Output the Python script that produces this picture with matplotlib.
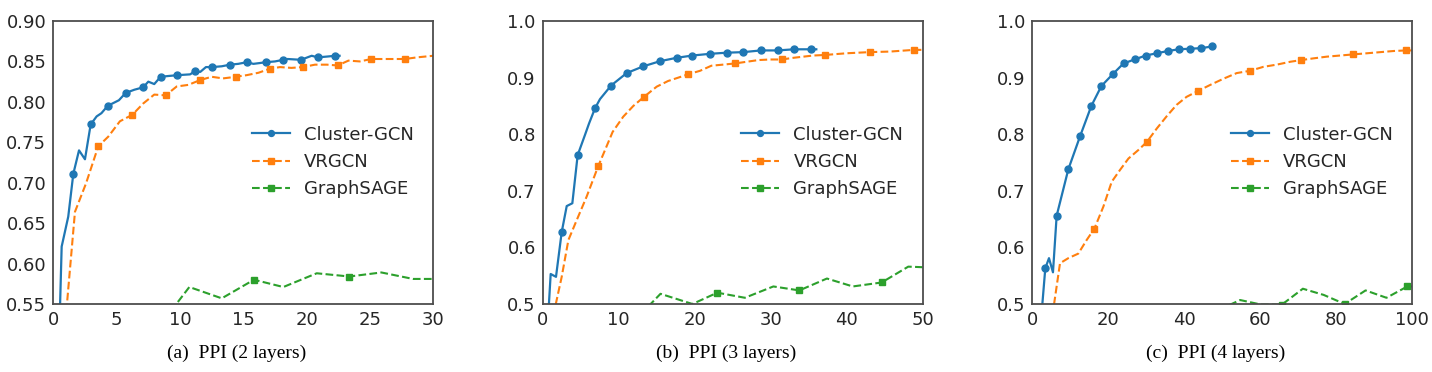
import matplotlib
matplotlib.use("Agg")
import matplotlib.pyplot as plt

# ---------------- data ----------------
# Panel (a): PPI (2 layers)
a_cluster_x = [0.45, 0.66, 1.18, 1.58, 2.03, 2.5, 2.95, 3.42, 3.8, 4.29, 5.18, 5.71, 6.4, 7.1, 7.5, 7.97, 8.47,
               9.1, 9.8, 10.8, 11.2, 11.6, 12.05, 12.55, 13.3, 13.95, 14.6, 15.26, 15.8, 16.3, 16.76, 17.5, 18.16,
               18.5, 19.55, 20.4, 20.87, 21.6, 22.26, 22.6]
a_cluster_y = [0.50, 0.621, 0.658, 0.711, 0.740, 0.729, 0.772, 0.782, 0.786, 0.795, 0.802, 0.811, 0.815, 0.818,
               0.825, 0.822, 0.831, 0.832, 0.833, 0.834, 0.838, 0.837, 0.843, 0.843, 0.844, 0.846, 0.847, 0.849,
               0.847, 0.848, 0.849, 0.850, 0.852, 0.853, 0.852, 0.857, 0.855, 0.856, 0.857, 0.857]
a_cluster_marks = [3, 6, 9, 11, 13, 16, 18, 20, 23, 25, 27, 30, 32, 34, 36, 38]

a_vrgcn_x = [0.8, 1.71, 2.58, 3.55, 4.34, 5.26, 6.24, 7.1, 7.97, 8.87, 9.74, 10.66, 11.6, 12.5, 13.4, 14.4,
             15.26, 16.2, 17.1, 17.9, 18.8, 19.7, 20.66, 21.6, 22.45, 23.3, 24.2, 25.1, 26.05, 26.8, 27.76,
             28.7, 30.0]
a_vrgcn_y = [0.50, 0.664, 0.699, 0.745, 0.757, 0.776, 0.784, 0.798, 0.809, 0.808, 0.819, 0.821, 0.827, 0.831,
             0.829, 0.831, 0.833, 0.836, 0.841, 0.843, 0.842, 0.843, 0.846, 0.846, 0.845, 0.851, 0.850, 0.853,
             0.853, 0.853, 0.853, 0.855, 0.857]
a_vrgcn_marks = [3, 6, 9, 12, 15, 18, 21, 24, 27, 30]

a_sage_x = [8.24, 10.74, 13.3, 15.84, 18.16, 20.8, 23.37, 25.9, 28.4, 30.0]
a_sage_y = [0.520, 0.571, 0.557, 0.580, 0.571, 0.588, 0.584, 0.589, 0.581, 0.581]
a_sage_marks = [0, 3, 6]

# Panel (b): PPI (3 layers)
b_cluster_x = [0.6, 1.05, 1.75, 2.5, 3.16, 3.9, 4.6, 5.57, 6.1, 6.89, 7.54, 9.0, 11.05, 13.25, 15.44, 17.63,
               19.7, 22.0, 24.2, 26.4, 28.7, 30.9, 33.07, 35.3, 36.0]
b_cluster_y = [0.45, 0.553, 0.548, 0.627, 0.673, 0.678, 0.763, 0.799, 0.819, 0.846, 0.862, 0.886, 0.908, 0.920,
               0.929, 0.935, 0.939, 0.942, 0.944, 0.945, 0.948, 0.948, 0.950, 0.950, 0.950]
b_cluster_marks = [3, 6, 9, 11, 12, 13, 14, 15, 16, 17, 18, 19, 20, 21, 22, 23]

b_vrgcn_x = [1.4, 2.5, 3.38, 4.47, 5.79, 7.32, 8.2, 9.2, 10.6, 11.93, 13.33, 15.0, 16.5, 17.85, 19.17, 20.7,
             22.2, 23.8, 25.3, 26.84, 28.4, 29.9, 31.45, 33.0, 34.3, 35.6, 37.15, 40.0, 43.0, 45.7, 48.86, 50.0]
b_vrgcn_y = [0.48, 0.548, 0.613, 0.648, 0.690, 0.744, 0.772, 0.804, 0.831, 0.850, 0.866, 0.884, 0.894, 0.900,
             0.906, 0.912, 0.921, 0.923, 0.925, 0.928, 0.931, 0.932, 0.932, 0.935, 0.937, 0.939, 0.940, 0.943,
             0.945, 0.946, 0.949, 0.949]
b_vrgcn_marks = [5, 10, 14, 18, 22, 26, 28, 30]

b_sage_x = [11.9, 15.5, 19.7, 22.98, 26.6, 30.35, 33.77, 37.4, 40.8, 44.6, 48.1, 50.0]
b_sage_y = [0.468, 0.518, 0.500, 0.520, 0.511, 0.531, 0.524, 0.545, 0.531, 0.538, 0.566, 0.565]
b_sage_marks = [3, 6, 9]

# Panel (c): PPI (4 layers)
c_cluster_x = [2.4, 3.42, 4.39, 5.44, 6.41, 9.48, 12.55, 15.54, 18.17, 21.16, 24.0, 26.9, 29.85, 32.75, 35.7,
               38.5, 41.4, 44.4, 47.3, 47.6]
c_cluster_y = [0.48, 0.563, 0.581, 0.556, 0.656, 0.738, 0.796, 0.850, 0.885, 0.906, 0.925, 0.932, 0.939, 0.943,
               0.947, 0.950, 0.951, 0.952, 0.955, 0.955]
c_cluster_marks = [1, 4, 5, 6, 7, 8, 9, 10, 11, 12, 13, 14, 15, 16, 17, 18]

c_vrgcn_x = [5.3, 7.29, 9.48, 12.1, 14.3, 16.33, 18.7, 20.9, 23.1, 25.3, 27.9, 30.1, 32.75, 35.4, 38.0, 40.6,
             43.5, 46.8, 50.3, 53.8, 57.3, 60.8, 64.4, 67.9, 70.8, 74.0, 77.5, 81.0, 84.5, 88.1, 91.6, 95.1,
             98.3, 100.0]
c_vrgcn_y = [0.48, 0.572, 0.581, 0.589, 0.613, 0.633, 0.672, 0.716, 0.737, 0.757, 0.772, 0.786, 0.810, 0.832,
             0.852, 0.866, 0.876, 0.887, 0.898, 0.908, 0.912, 0.919, 0.923, 0.928, 0.931, 0.934, 0.937, 0.939,
             0.941, 0.943, 0.945, 0.947, 0.948, 0.948]
c_vrgcn_marks = [5, 11, 16, 20, 24, 28, 32]

c_sage_x = [49.2, 54.7, 60.2, 65.7, 71.2, 76.7, 82.2, 87.7, 93.2, 98.7, 100.0]
c_sage_y = [0.490, 0.507, 0.499, 0.499, 0.527, 0.516, 0.500, 0.524, 0.511, 0.531, 0.531]
c_sage_marks = [0, 3, 6, 9]

panels = [
    dict(cl=(a_cluster_x, a_cluster_y, a_cluster_marks), vr=(a_vrgcn_x, a_vrgcn_y, a_vrgcn_marks),
         gs=(a_sage_x, a_sage_y, a_sage_marks), xlim=(0, 30), ylim=(0.55, 0.90),
         xticks=[0, 5, 10, 15, 20, 25, 30], yticks=[0.55, 0.60, 0.65, 0.70, 0.75, 0.80, 0.85, 0.90],
         yfmt="{:.2f}", caption="(a)  PPI (2 layers)"),
    dict(cl=(b_cluster_x, b_cluster_y, b_cluster_marks), vr=(b_vrgcn_x, b_vrgcn_y, b_vrgcn_marks),
         gs=(b_sage_x, b_sage_y, b_sage_marks), xlim=(0, 50), ylim=(0.5, 1.0),
         xticks=[0, 10, 20, 30, 40, 50], yticks=[0.5, 0.6, 0.7, 0.8, 0.9, 1.0],
         yfmt="{:.1f}", caption="(b)  PPI (3 layers)"),
    dict(cl=(c_cluster_x, c_cluster_y, c_cluster_marks), vr=(c_vrgcn_x, c_vrgcn_y, c_vrgcn_marks),
         gs=(c_sage_x, c_sage_y, c_sage_marks), xlim=(0, 100), ylim=(0.5, 1.0),
         xticks=[0, 20, 40, 60, 80, 100], yticks=[0.5, 0.6, 0.7, 0.8, 0.9, 1.0],
         yfmt="{:.1f}", caption="(c)  PPI (4 layers)"),
]

W, H = 1432, 372
fig = plt.figure(figsize=(W / 100, H / 100), dpi=100)
lefts = [53.3, 542.7, 1032.3]
axw = 380
top_px, bot_px = 21, 304
txt = "#262626"

for left, p in zip(lefts, panels):
    ax = fig.add_axes([left / W, (H - bot_px) / H, axw / W, (bot_px - top_px) / H])
    x, y, m = p["cl"]
    ax.plot(x, y, "-", color="#1f77b4", lw=1.6, marker="o", ms=5, markevery=m, label="Cluster-GCN")
    x, y, m = p["vr"]
    ax.plot(x, y, "--", color="#ff7f0e", lw=1.5, marker="s", ms=4.3, markevery=m, label="VRGCN")
    x, y, m = p["gs"]
    ax.plot(x, y, "--", color="#2ca02c", lw=1.5, marker="s", ms=4.3, markevery=m, label="GraphSAGE")
    ax.set_xlim(*p["xlim"])
    ax.set_ylim(*p["ylim"])
    ax.set_xticks(p["xticks"])
    ax.set_yticks(p["yticks"])
    ax.set_yticklabels([p["yfmt"].format(v) for v in p["yticks"]])
    ax.tick_params(length=0, pad=5, labelsize=13, colors=txt)
    for s in ax.spines.values():
        s.set_color("#4d4d4d")
        s.set_linewidth(1.3)
    ax.legend(loc="upper left", bbox_to_anchor=(0.522, 0.63), frameon=False, fontsize=13,
              handlelength=2.1, handletextpad=0.8, labelspacing=0.52, borderpad=0, borderaxespad=0,
              labelcolor=txt, markerscale=0.85)
    cx = (left + axw / 2 - 7) / W
    fig.text(cx, (H - 353) / H, p["caption"], ha="center", va="center", fontsize=14,
             family="Liberation Serif", color="black")

fig.savefig("out.png", dpi=100)
